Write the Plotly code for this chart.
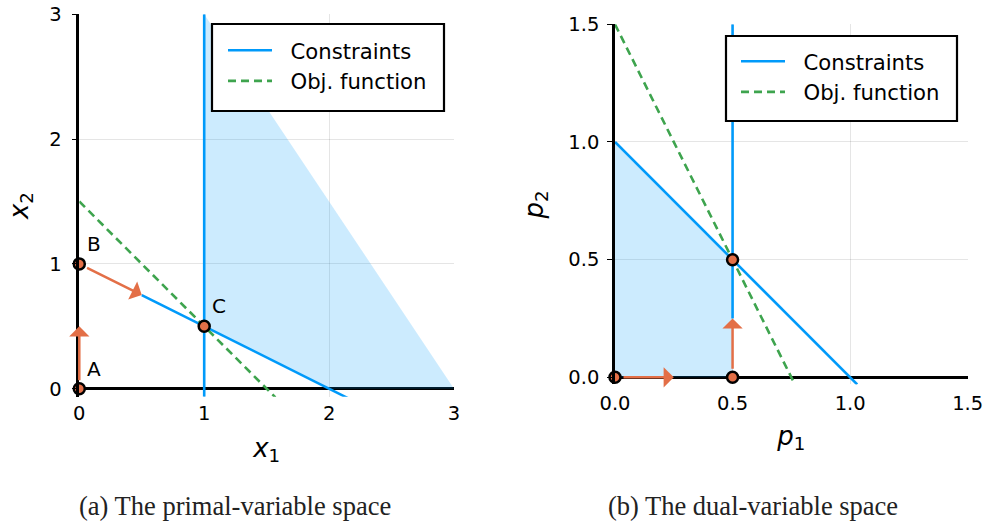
import plotly.graph_objects as go

W, H = 985, 523

# ---------------- data: primal-variable space ----------------
primal_xlim = [0, 3]
primal_ylim = [-0.065, 3]
primal_ticks = [0, 1, 2, 3]
primal_tick_text = ["0", "1", "2", "3"]
primal_con_x = [1, 1, None, 0.5, 2.15]
primal_con_y = [-0.065, 3, None, 0.75, -0.075]
primal_obj_x = [0, 1.57]
primal_obj_y = [1.5, -0.07]
primal_feas_x = [1, 1, 3, 2]
primal_feas_y = [0.5, 3, 0, 0]
primal_pts_x = [0, 0, 1]
primal_pts_y = [0, 1, 0.5]
primal_pts_lbl = ["A", "B", "C"]
primal_arr_x0 = [0, 0]
primal_arr_y0 = [0, 1]
primal_arr_x1 = [0, 0.5]
primal_arr_y1 = [0.5, 0.75]

# ---------------- data: dual-variable space ----------------
dual_xlim = [0, 1.5]
dual_ylim = [-0.03, 1.5]
dual_ticks = [0, 0.5, 1.0, 1.5]
dual_tick_text = ["0.0", "0.5", "1.0", "1.5"]
dual_con_x = [0.5, 0.5, None, 0, 1.03]
dual_con_y = [0.25, 1.5, None, 1, -0.03]
dual_obj_x = [0, 0.765]
dual_obj_y = [1.5, -0.03]
dual_feas_x = [0, 0, 0.5, 0.5]
dual_feas_y = [0, 1, 0.5, 0]
dual_pts_x = [0, 0.5, 0.5]
dual_pts_y = [0, 0, 0.5]
dual_arr_x0 = [0, 0.5]
dual_arr_y0 = [0, 0]
dual_arr_x1 = [0.25, 0.5]
dual_arr_y1 = [0, 0.25]

captions = ["(a) The primal-variable space", "(b) The dual-variable space"]
legend_names = ["Constraints", "Obj. function"]

# ---------------- styles ----------------
BLUE = "#009AFA"
ORANGE = "#E36F47"
GREEN = "#3EA44E"
FILL = "rgba(0,154,250,0.2)"
GRID = "rgba(0,0,0,0.1)"
FONT = "DejaVu Sans"
TICK_SIZE = 19.5
TXT_SIZE = 20
LEG_SIZE = 21.2
NB = "\u00a0\u00a0"
LW = 2.6


def px_dom_x(a, b):
    return [a / W, b / W]


def px_dom_y(top, bottom):
    return [1 - bottom / H, 1 - top / H]


fig = go.Figure()


def add_panel(xa, ya, feas_x, feas_y, con_x, con_y, obj_x, obj_y, pts_x, pts_y, legend):
    fig.add_trace(go.Scatter(x=feas_x, y=feas_y, fill="toself", fillcolor=FILL,
                             mode="none", showlegend=False, xaxis=xa, yaxis=ya,
                             hoverinfo="skip"))
    fig.add_trace(go.Scatter(x=con_x, y=con_y, mode="lines", name=NB + legend_names[0],
                             line=dict(color=BLUE, width=LW), xaxis=xa, yaxis=ya,
                             legend=legend))
    fig.add_trace(go.Scatter(x=obj_x, y=obj_y, mode="lines", name=NB + legend_names[1],
                             line=dict(color=GREEN, width=LW, dash="8px,5px"),
                             xaxis=xa, yaxis=ya, legend=legend))
    fig.add_trace(go.Scatter(x=pts_x, y=pts_y, mode="markers", showlegend=False,
                             marker=dict(color=ORANGE, size=11,
                                         line=dict(color="black", width=2.5)),
                             cliponaxis=False, xaxis=xa, yaxis=ya))


add_panel("x", "y", primal_feas_x, primal_feas_y, primal_con_x, primal_con_y,
          primal_obj_x, primal_obj_y, primal_pts_x, primal_pts_y, "legend")
add_panel("x2", "y2", dual_feas_x, dual_feas_y, dual_con_x, dual_con_y,
          dual_obj_x, dual_obj_y, dual_pts_x, dual_pts_y, "legend2")

annotations = []


def add_arrows(xr, yr, x0s, y0s, x1s, y1s):
    for x0, y0, x1, y1 in zip(x0s, y0s, x1s, y1s):
        annotations.append(dict(x=x1, y=y1, ax=x0, ay=y0, xref=xr, yref=yr,
                                axref=xr, ayref=yr, text="", showarrow=True,
                                arrowhead=1, arrowsize=1.35, arrowwidth=2.5,
                                arrowcolor=ORANGE, startstandoff=7, standoff=0))


add_arrows("x", "y", primal_arr_x0, primal_arr_y0, primal_arr_x1, primal_arr_y1)
add_arrows("x2", "y2", dual_arr_x0, dual_arr_y0, dual_arr_x1, dual_arr_y1)

for px_, py_, lbl in zip(primal_pts_x, primal_pts_y, primal_pts_lbl):
    annotations.append(dict(x=px_, y=py_, xref="x", yref="y", text=lbl,
                            showarrow=False, xshift=15, yshift=20,
                            font=dict(family=FONT, size=TXT_SIZE, color="black")))

for cx, cap in zip([234.5, 753], captions):
    annotations.append(dict(x=cx / W, y=1 - 506 / H, xref="paper", yref="paper",
                            text=cap, showarrow=False, xanchor="center",
                            yanchor="middle",
                            font=dict(family="Liberation Serif", size=26.5,
                                      color="#222")))

# legend boxes drawn as rectangles
shapes = []
for (l, t, r, b) in [(212, 24, 444, 111), (726, 36, 957, 121)]:
    shapes.append(dict(type="rect", xref="paper", yref="paper",
                       x0=l / W, x1=r / W, y0=1 - b / H, y1=1 - t / H,
                       line=dict(color="black", width=2.2), fillcolor="white",
                       layer="above"))

axis_common = dict(showgrid=True, gridcolor=GRID, gridwidth=1,
                   tickfont=dict(family=FONT, size=TICK_SIZE, color="black"),
                   title_font=dict(family=FONT, size=26, color="black"),
                   fixedrange=True, automargin=False)

leg_common = dict(xanchor="left", yanchor="top", bgcolor="rgba(0,0,0,0)",
                  borderwidth=0, itemwidth=44,
                  font=dict(family=FONT, size=LEG_SIZE, color="black"))

fig.update_layout(
    width=W, height=H,
    margin=dict(l=0, r=0, t=0, b=0, autoexpand=False),
    paper_bgcolor="white", plot_bgcolor="white",
    font=dict(family=FONT, color="black"),
    xaxis=dict(domain=px_dom_x(79.3, 454), range=primal_xlim,
               tickvals=primal_ticks, ticktext=primal_tick_text,
               zeroline=False, showline=False, ticks="",
               ticklabelstandoff=3,
               title=dict(text="<i>x</i><sub>1</sub>", standoff=14),
               anchor="y", **axis_common),
    yaxis=dict(domain=px_dom_y(14.3, 396.8), range=primal_ylim,
               tickvals=primal_ticks, ticktext=primal_tick_text,
               zeroline=True, zerolinecolor="black", zerolinewidth=LW,
               showline=True, linecolor="black", linewidth=LW,
               ticks="outside", ticklen=5, tickcolor="black",
               ticklabelstandoff=6,
               title=dict(text="<i>x</i><sub>2</sub>", standoff=14),
               anchor="x", **axis_common),
    xaxis2=dict(domain=px_dom_x(615, 967.7), range=dual_xlim,
                tickvals=dual_ticks, ticktext=dual_tick_text,
                zeroline=False, showline=False, ticks="",
                ticklabelstandoff=5,
                title=dict(text="<i>p</i><sub>1</sub>", standoff=12),
                anchor="y2", **axis_common),
    yaxis2=dict(domain=px_dom_y(24.3, 384.4), range=dual_ylim,
                tickvals=dual_ticks, ticktext=dual_tick_text,
                zeroline=True, zerolinecolor="black", zerolinewidth=LW,
                showline=True, linecolor="black", linewidth=LW,
                ticks="outside", ticklen=5, tickcolor="black",
                ticklabelstandoff=4,
                title=dict(text="<i>p</i><sub>2</sub>", standoff=18),
                anchor="x2", **axis_common),
    legend=dict(x=223 / W, y=1 - 30 / H, **leg_common),
    legend2=dict(x=736 / W, y=1 - 41 / H, **leg_common),
    annotations=annotations,
    shapes=shapes,
)

fig.write_html("out.html", config={"displayModeBar": False},
               post_script="document.body.style.margin='0';"
                           "document.body.style.padding='0';")
